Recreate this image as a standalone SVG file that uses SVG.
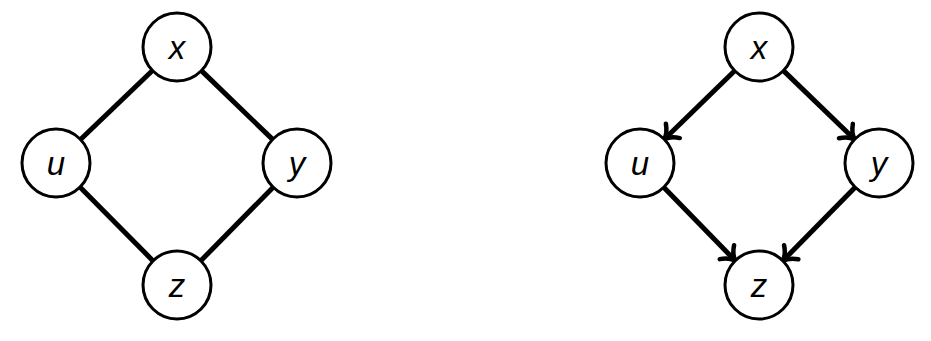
<svg xmlns="http://www.w3.org/2000/svg" width="931" height="341" viewBox="0 0 931 341">
<defs>
<style>
.node circle{fill:#fff;stroke:#000;stroke-width:3}
.node text{font-family:"Liberation Sans",Arial,sans-serif;font-style:italic;font-size:33px;text-anchor:middle;dominant-baseline:central;fill:#000}
.edge{stroke:#000;stroke-width:5;fill:none}
</style>
<marker id="arr" markerUnits="userSpaceOnUse" orient="auto" markerWidth="30" markerHeight="30" refX="-3" refY="0" viewBox="-15 -15 30 30" overflow="visible">
<path d="M-12,-10 C-8,-4 -3,-1 0,0 C-3,1 -8,4 -12,10" fill="none" stroke="#000" stroke-width="4.5" stroke-linecap="round" stroke-linejoin="round"/>
</marker>
</defs>
<g id="connectors">
<line class="edge" x1="152.5" y1="70.5" x2="80.5" y2="139.5"/>
<line class="edge" x1="201.4" y1="70.6" x2="272.6" y2="139.4"/>
<line class="edge" x1="79.9" y1="187.1" x2="153.1" y2="260.9"/>
<line class="edge" x1="273.2" y1="187.2" x2="200.8" y2="260.8"/>
<line class="edge" x1="734.7" y1="70.7" x2="666.4" y2="137.2" marker-end="url(#arr)"/>
<line class="edge" x1="783.4" y1="70.6" x2="852.4" y2="137.3" marker-end="url(#arr)"/>
<line class="edge" x1="663.7" y1="187.3" x2="733.2" y2="258.6" marker-end="url(#arr)"/>
<line class="edge" x1="855.2" y1="187.2" x2="784.9" y2="258.7" marker-end="url(#arr)"/>
</g>
<g id="x1" class="node"><circle cx="177" cy="47" r="34"/><text x="177" y="47">x</text></g>
<g id="u1" class="node"><circle cx="56" cy="163" r="34"/><text x="56" y="163">u</text></g>
<g id="y1" class="node"><circle cx="297" cy="163" r="34"/><text x="297" y="163">y</text></g>
<g id="z1" class="node"><circle cx="177" cy="285" r="34"/><text x="177" y="285">z</text></g>
<g id="x2" class="node"><circle cx="759" cy="47" r="34"/><text x="759" y="47">x</text></g>
<g id="u2" class="node"><circle cx="640" cy="163" r="34"/><text x="640" y="163">u</text></g>
<g id="y2" class="node"><circle cx="879" cy="163" r="34"/><text x="879" y="163">y</text></g>
<g id="z2" class="node"><circle cx="759" cy="285" r="34"/><text x="759" y="285">z</text></g>
</svg>
